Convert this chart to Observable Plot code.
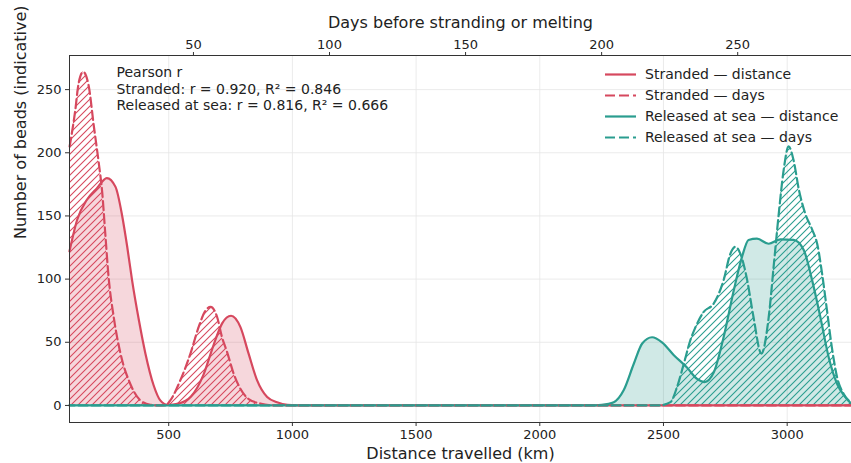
<!DOCTYPE html>
<html>
<head>
<meta charset="utf-8">
<script src="https://cdn.jsdelivr.net/npm/d3@7"></script>
<script src="https://cdn.jsdelivr.net/npm/@observablehq/plot@0.6"></script>
<style>
  html, body { margin: 0; padding: 0; background: white; }
  #chart svg { display: block; }
</style>
</head>
<body>
<div id="chart"></div>
<script>
// ---------- data ----------
// Stranded — distance (km → number of beads)
const strandedKm = [99, 130, 170, 210, 250, 285, 312, 332, 352, 379, 406, 439, 466, 495, 540, 590, 640, 680, 716, 752, 790, 823, 857, 898, 938, 980, 1050, 3260];
const strandedKmCount = [122, 147, 163, 172, 180, 173, 150, 126, 99, 68, 41, 16, 4, 0.5, 1.5, 7, 24, 47, 65, 71, 62, 41, 20, 6.6, 2.5, 0.5, 0, 0];

// Stranded — days before stranding (days → number of beads)
const strandedDays = [4.5, 6.6, 7.8, 9.5, 11.5, 13.4, 15.2, 16.5, 17.6, 18.8, 20.7, 23.2, 26.8, 30.5, 34.2, 37.5, 40, 41.5, 45.2, 48.9, 51.9, 54.4, 56.3, 58.7, 60.5, 62.4, 64.8, 67.3, 70.3, 74.6, 78, 82, 292];
const strandedDaysCount = [205, 234, 255, 264, 253, 221, 192, 168, 136, 102, 70, 41, 17, 4, 0.5, 0, 0.5, 4, 20, 41, 62, 75, 78, 70, 54, 42, 25, 13, 5, 1.5, 0.2, 0, 0];

// Released at sea — distance
const releasedKm = [99, 2200, 2250, 2299, 2339, 2380, 2414, 2454, 2494, 2541, 2595, 2636, 2666, 2703, 2743, 2784, 2818, 2844, 2878, 2925, 2973, 3026, 3067, 3101, 3134, 3168, 3202, 3235, 3260];
const releasedKmCount = [0, 0, 0.5, 2.6, 12, 33, 49, 54, 50, 40, 30, 21, 18.5, 26, 54, 91, 118, 131, 132, 128, 131.5, 131, 123, 99, 70, 38, 17, 6.6, 1.2];

// Released at sea — days before melting
const releasedDays = [4.5, 221, 225.3, 227.7, 230.2, 232.6, 234.5, 237.5, 241.2, 244.8, 247.3, 249.2, 251, 253.5, 255.8, 258.7, 261.4, 263.3, 265.1, 266.9, 268.7, 270.5, 272.5, 274.8, 277.4, 279.2, 281, 282.8, 284.6, 286.5, 288.9, 291.5];
const releasedDaysCount = [0, 0, 2.6, 14.5, 33, 51.6, 62, 74, 80.7, 99, 120, 125.6, 120, 99, 70, 41, 70, 112, 152, 186.5, 205, 194.4, 170.6, 152, 139, 128, 104.5, 75.4, 46, 22.5, 9.3, 2.6];

// Axis ticks
const xTicks = [500, 1000, 1500, 2000, 2500, 3000];
const dayTicks = [50, 100, 150, 200, 250];
const yTicks = [0, 50, 100, 150, 200, 250];

// Text
const xLabel = "Distance travelled (km)";
const topLabel = "Days before stranding or melting";
const yLabel = "Number of beads (indicative)";
const statsText = ["Pearson r", "Stranded: r = 0.920, R² = 0.846", "Released at sea: r = 0.816, R² = 0.666"];
const legendLabels = ["Stranded — distance", "Stranded — days", "Released at sea — distance", "Released at sea — days"];

// ---------- styling / twin-axis relation ----------
const RED = "#d6485e";
const TEAL = "#2a9d8f";
const KM_PER_DAY = 11, KM_OFFSET = 50;          // secondary (top) axis relation
const dayToKm = d => KM_OFFSET + KM_PER_DAY * d;
const kmToDay = k => (k - KM_OFFSET) / KM_PER_DAY;
const X_DOMAIN = [99, 3260];
const Y_DOMAIN = [-13.5, 277];

const sDist = strandedKm.map((x, i) => ({x, y: strandedKmCount[i]}));
const sDays = strandedDays.map((d, i) => ({x: dayToKm(d), y: strandedDaysCount[i]}));
const rDist = releasedKm.map((x, i) => ({x, y: releasedKmCount[i]}));
const rDays = releasedDays.map((d, i) => ({x: dayToKm(d), y: releasedDaysCount[i]}));

const curve = "monotone-x";
const DASH = "9,4";
const LW = 2.2;

const plot = Plot.plot({
  width: 851,
  height: 463,
  marginLeft: 69,
  marginRight: 0,
  marginTop: 55,
  marginBottom: 41,
  style: {fontFamily: "'DejaVu Sans', sans-serif", background: "white", color: "#222"},
  x: {domain: X_DOMAIN},
  y: {domain: Y_DOMAIN},
  marks: [
    Plot.gridX(xTicks, {stroke: "#e6e6e6", strokeOpacity: 1, strokeWidth: 0.8}),
    Plot.gridY(yTicks, {stroke: "#e6e6e6", strokeOpacity: 1, strokeWidth: 0.8}),
    // fills
    Plot.areaY(sDist, {x: "x", y: "y", fill: RED, fillOpacity: 0.22, curve}),
    Plot.areaY(sDays, {x: "x", y: "y", fill: "url(#hatch-red)", curve}),
    Plot.areaY(rDist, {x: "x", y: "y", fill: TEAL, fillOpacity: 0.22, curve}),
    Plot.areaY(rDays, {x: "x", y: "y", fill: "url(#hatch-teal)", curve}),
    // lines
    Plot.lineY(sDist, {x: "x", y: "y", stroke: RED, strokeWidth: LW, curve}),
    Plot.lineY(rDist, {x: "x", y: "y", stroke: TEAL, strokeWidth: LW, curve}),
    Plot.lineY(sDays, {x: "x", y: "y", stroke: RED, strokeWidth: LW, strokeDasharray: DASH, curve}),
    Plot.lineY(rDays, {x: "x", y: "y", stroke: TEAL, strokeWidth: LW, strokeDasharray: DASH, strokeDashoffset: 4, curve}),
    // spines
    Plot.ruleX([X_DOMAIN[0]], {stroke: "#333", strokeWidth: 1}),
    Plot.ruleY([Y_DOMAIN[0]], {stroke: "#333", strokeWidth: 1}),
    Plot.ruleY([Y_DOMAIN[1]], {stroke: "#333", strokeWidth: 1}),
    // axes
    Plot.axisX(xTicks, {anchor: "bottom", tickSize: 4, tickPadding: 3, fontSize: 13, label: null, tickFormat: d => String(d), stroke: "#333"}),
    Plot.axisX(dayTicks.map(dayToKm), {anchor: "top", tickSize: 4, tickPadding: 3, fontSize: 13, label: null, tickFormat: k => String(Math.round(kmToDay(k))), stroke: "#333"}),
    Plot.axisY(yTicks, {anchor: "left", tickSize: 4, tickPadding: 4, fontSize: 13, label: null, tickFormat: d => String(d), stroke: "#333"}),
    // axis titles
    Plot.text([xLabel], {frameAnchor: "bottom", dy: 31, fontSize: 16, lineAnchor: "middle", fill: "#222"}),
    Plot.text([topLabel], {frameAnchor: "top", dy: -33, fontSize: 16, lineAnchor: "middle", fill: "#222"}),
    Plot.text([yLabel], {frameAnchor: "left", dx: -49, rotate: -90, fontSize: 16, lineAnchor: "middle", fill: "#222"}),
    // statistics annotation
    Plot.text([statsText.join("\n")], {frameAnchor: "top-left", dx: 47, dy: 10, textAnchor: "start", lineAnchor: "top", fontSize: 14, lineHeight: 1.18, fill: "#222"})
  ]
});

// hatch patterns
const svg = d3.select(plot);
const defs = svg.insert("defs", ":first-child");
[["hatch-red", RED], ["hatch-teal", TEAL]].forEach(([id, c]) => {
  const p = defs.append("pattern").attr("id", id).attr("patternUnits", "userSpaceOnUse")
    .attr("width", 7).attr("height", 7);
  p.append("path").attr("d", "M0,7 L7,0 M-1,1 L1,-1 M6,8 L8,6")
    .attr("fill", "none")
    .style("stroke", c).style("stroke-width", "1.1px").style("stroke-opacity", 1);
});

// legend (inside the axes, upper right)
const legendStyles = [[RED, null], [RED, DASH], [TEAL, null], [TEAL, DASH]];
const lg = svg.append("g").attr("font-family", "'DejaVu Sans', sans-serif").attr("font-size", 14)
  .attr("text-anchor", "start");
legendLabels.forEach((label, i) => {
  const y = 74.5 + i * 21;
  const [c, dash] = legendStyles[i];
  const ln = lg.append("line").attr("x1", 605).attr("x2", 636).attr("y1", y).attr("y2", y)
    .style("stroke", c).style("stroke-width", LW + "px");
  if (dash) ln.style("stroke-dasharray", "10,4");
  lg.append("text").attr("x", 645).attr("y", y).attr("dy", "0.35em")
    .attr("text-anchor", "start").attr("fill", "#222").text(label);
});

document.getElementById("chart").appendChild(plot);
</script>
</body>
</html>
